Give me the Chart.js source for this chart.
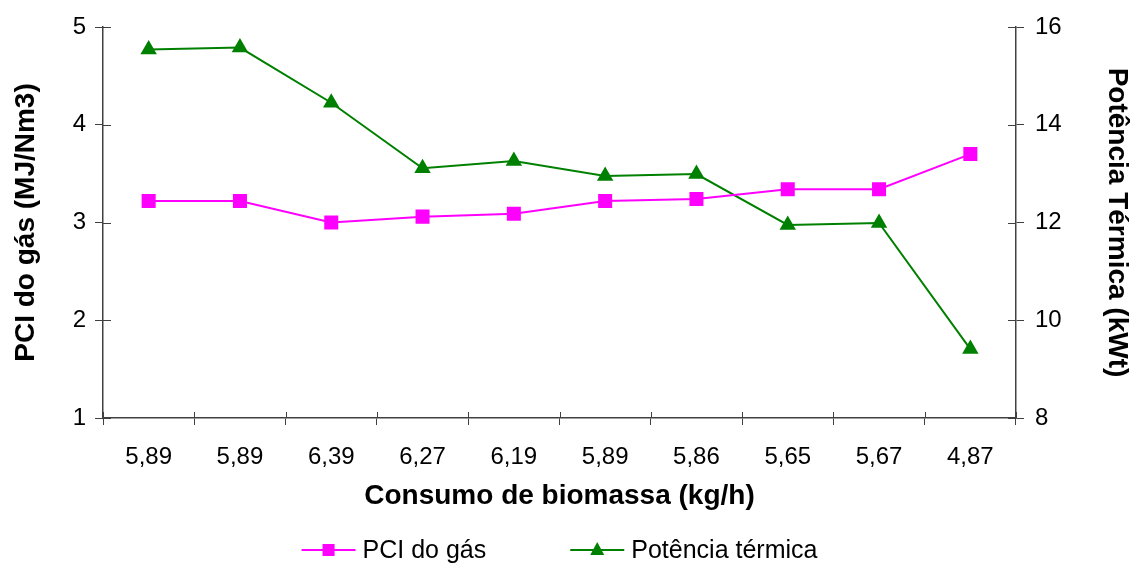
<!DOCTYPE html>
<html>
<head>
<meta charset="utf-8">
<script src="https://cdn.jsdelivr.net/npm/chart.js"></script>
<style>
  html, body { margin: 0; padding: 0; background: #fff; }
  #wrap { width: 1137px; height: 565px; }
</style>
</head>
<body>
<div id="wrap"><canvas id="grafico" width="1137" height="565"></canvas></div>
<script>
const consumo = ["5,89", "5,89", "6,39", "6,27", "6,19", "5,89", "5,86", "5,65", "5,67", "4,87"];
const pciGas = [3.22, 3.22, 3.00, 3.06, 3.09, 3.22, 3.24, 3.34, 3.34, 3.70];
const potencia = [15.54, 15.58, 14.45, 13.11, 13.26, 12.95, 12.99, 11.95, 11.99, 9.41];

const FONTE = "'Liberation Sans', Arial, sans-serif";
const EIXO = "#404040";
const MAGENTA = "#FF00FF";
const VERDE = "#008000";

// tick marks in the reference cross the axis line, draw the inner half
const ticksInternos = {
  id: "ticksInternos",
  afterDraw(chart) {
    const ctx = chart.ctx;
    const area = chart.chartArea;
    const x = chart.scales.x;
    const passo = x.getPixelForValue(1) - x.getPixelForValue(0);
    ctx.save();
    ctx.strokeStyle = EIXO;
    ctx.lineWidth = 1;
    ctx.beginPath();
    for (let i = 0; i <= consumo.length; i++) {
      const px = Math.round(x.getPixelForValue(i) - passo / 2) + 0.5;
      ctx.moveTo(px, area.bottom);
      ctx.lineTo(px, area.bottom - 6);
    }
    chart.scales.y.ticks.forEach((t) => {
      const py = Math.round(chart.scales.y.getPixelForValue(t.value)) + 0.5;
      ctx.moveTo(area.left, py);
      ctx.lineTo(area.left + 8, py);
    });
    chart.scales.y1.ticks.forEach((t) => {
      const py = Math.round(chart.scales.y1.getPixelForValue(t.value)) + 0.5;
      ctx.moveTo(area.right, py);
      ctx.lineTo(area.right - 8, py);
    });
    ctx.stroke();
    ctx.restore();
  },
};

// legend: line with marker, then the text
const legenda = {
  id: "legenda",
  afterDraw(chart) {
    const ctx = chart.ctx;
    const itens = [
      { texto: chart.data.datasets[0].label, cor: MAGENTA, estilo: "rect" },
      { texto: chart.data.datasets[1].label, cor: VERDE, estilo: "triangle" },
    ];
    const linha = 54, vao = 7, espaco = 84;
    ctx.save();
    ctx.font = "25px " + FONTE;
    ctx.textBaseline = "middle";
    ctx.textAlign = "left";
    const larguras = itens.map((it) => ctx.measureText(it.texto).width);
    let total = espaco;
    larguras.forEach((w) => { total += linha + vao + w; });
    const area = chart.chartArea;
    let px = (area.left + area.right) / 2 - total / 2;
    const py = 550;
    itens.forEach((it, i) => {
      ctx.strokeStyle = it.cor;
      ctx.fillStyle = it.cor;
      ctx.lineWidth = 2;
      ctx.beginPath();
      ctx.moveTo(px, py);
      ctx.lineTo(px + linha, py);
      ctx.stroke();
      const cx = px + linha / 2;
      if (it.estilo === "rect") {
        ctx.fillRect(cx - 6, py - 6, 12, 12);
      } else {
        ctx.beginPath();
        ctx.moveTo(cx, py - 8);
        ctx.lineTo(cx + 7, py + 5);
        ctx.lineTo(cx - 7, py + 5);
        ctx.closePath();
        ctx.fill();
      }
      ctx.fillStyle = "#000";
      ctx.fillText(it.texto, px + linha + vao, py + 1);
      px += linha + vao + larguras[i] + espaco;
    });
    ctx.restore();
  },
};

new Chart(document.getElementById("grafico"), {
  type: "line",
  data: {
    labels: consumo,
    datasets: [
      {
        label: "PCI do gás",
        data: pciGas,
        yAxisID: "y",
        borderColor: MAGENTA,
        backgroundColor: MAGENTA,
        borderWidth: 2,
        pointStyle: "rect",
        pointRadius: 8.5,
        pointHoverRadius: 8.5,
        tension: 0,
      },
      {
        label: "Potência térmica",
        data: potencia,
        yAxisID: "y1",
        borderColor: VERDE,
        backgroundColor: VERDE,
        borderWidth: 2,
        pointStyle: "triangle",
        pointRadius: 7.5,
        pointHoverRadius: 7.5,
        tension: 0,
      },
    ],
  },
  plugins: [ticksInternos, legenda],
  options: {
    responsive: false,
    animation: false,
    layout: { padding: { top: 27, left: 0, right: 0, bottom: 50 } },
    plugins: {
      tooltip: { enabled: false },
      legend: { display: false },
    },
    scales: {
      x: {
        offset: true,
        border: { color: EIXO, width: 1.5 },
        grid: { display: true, offset: true, drawOnChartArea: false, drawTicks: true, tickLength: 7, color: EIXO },
        ticks: { color: "#000", font: { family: FONTE, size: 24 }, padding: 18, maxRotation: 0, autoSkip: false },
        title: {
          display: true,
          text: "Consumo de biomassa (kg/h)",
          color: "#000",
          font: { family: FONTE, size: 28, weight: "bold" },
          padding: { top: 0, bottom: 2 },
        },
        afterFit: (s) => { s.height = 97; },
      },
      y: {
        position: "left",
        min: 1,
        max: 5,
        border: { color: EIXO, width: 1.5 },
        grid: { drawOnChartArea: false, tickLength: 8, color: EIXO },
        ticks: { stepSize: 1, color: "#000", font: { family: FONTE, size: 24 }, padding: 9 },
        title: {
          display: true,
          text: "PCI do gás (MJ/Nm3)",
          color: "#000",
          font: { family: FONTE, size: 28, weight: "bold" },
          padding: { top: 9, bottom: 0 },
        },
        afterFit: (s) => { s.width = 103; },
      },
      y1: {
        position: "right",
        min: 8,
        max: 16,
        border: { color: EIXO, width: 1.5 },
        grid: { drawOnChartArea: false, tickLength: 8, color: EIXO },
        ticks: { stepSize: 2, color: "#000", font: { family: FONTE, size: 24 }, padding: 11 },
        title: {
          display: true,
          text: "Potência Térmica (kWt)",
          color: "#000",
          font: { family: FONTE, size: 28, weight: "bold" },
          padding: { top: 3, bottom: 0 },
        },
        afterFit: (s) => { s.width = 121; },
      },
    },
  },
});
</script>
</body>
</html>
